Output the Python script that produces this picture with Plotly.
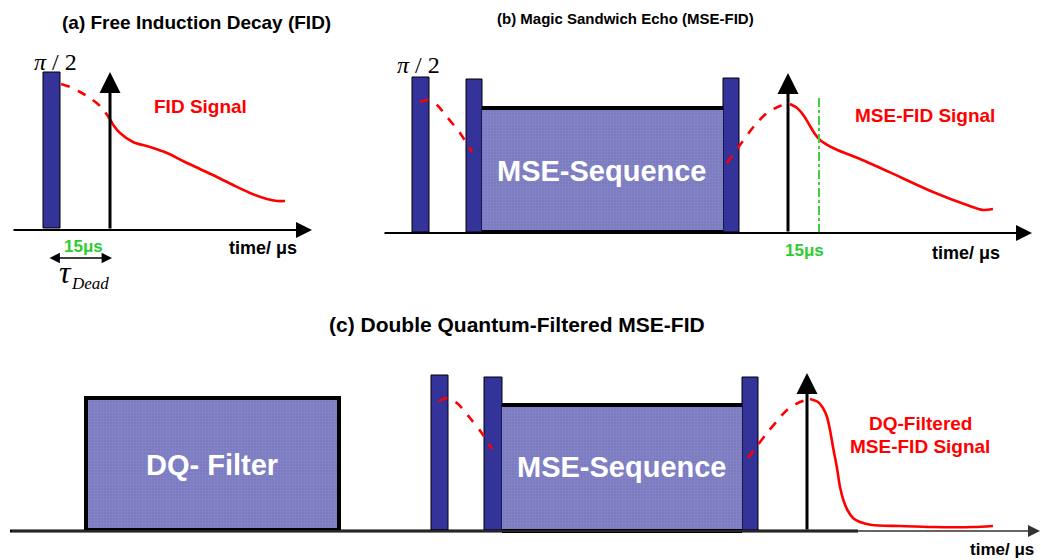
import plotly.graph_objects as go

# ---------------- schematic data (canvas units, y grows downward) ----------------
# RF pulses: start, end, top, bottom
pulse_start = [43, 412, 466, 723, 431, 484, 742]
pulse_end = [60, 429, 482, 739, 448, 502, 758]
pulse_top = [72, 77, 79, 78, 375, 377, 377]
pulse_bottom = [228, 232, 232, 232, 530, 531, 531]

# textured blocks (MSE sequence (b), DQ filter (c), MSE sequence (c))
block_names = ["MSE-Sequence", "DQ- Filter", "MSE-Sequence"]
block_start = [482, 86, 502]
block_end = [723, 339, 742]
block_top = [108, 398, 405]
block_bottom = [232, 530, 531]
block_label_x = [602, 212, 622]
block_label_y = [171, 465, 467]

# signals (a) FID
fid_a_dash_x = [61, 70, 80, 90, 100, 110]
fid_a_dash_y = [84, 87, 92, 98, 106, 119]
fid_a_x = [110, 114, 120, 133, 150, 167, 183, 200, 217, 233, 250, 267, 277, 285]
fid_a_y = [119, 126, 133, 142, 147, 153, 161, 169, 177, 185, 193, 199, 201, 201]

# (b) MSE-FID
mse_b_dash1_x = [420, 428, 437, 447, 460, 472]
mse_b_dash1_y = [102, 100, 105, 117, 133, 152]
mse_b_dash2_x = [727, 740, 755, 767, 780, 790]
mse_b_dash2_y = [163, 145, 125, 113, 106, 104]
mse_b_x = [790, 797, 804, 810, 815, 820, 833, 850, 867, 900, 933, 967, 983, 993]
mse_b_y = [104, 108, 116, 126, 134, 140, 148, 155, 162, 177, 192, 205, 210, 209]

# (c) DQ-filtered MSE-FID
dq_c_dash1_x = [439, 448, 458, 470, 481, 492]
dq_c_dash1_y = [401, 398, 404, 418, 432, 449]
dq_c_dash2_x = [748, 757, 767, 777, 787, 800, 810]
dq_c_dash2_y = [458, 446, 433, 421, 410, 402, 399]
dq_c_x = [810, 818, 823, 827, 830, 833, 837, 840, 844, 848, 853, 860, 872, 900, 933, 973, 993]
dq_c_y = [399, 402, 408, 417, 430, 447, 468, 487, 502, 511, 518, 522, 525, 526, 527, 527, 526]

# time axes: x0, x1, y
axis_x0 = [12, 383, 10]
axis_x1 = [312, 1032, 1040]
axis_y = [230, 233, 531]
axis_label_x = [263, 966, 1002]
axis_label_y = [248, 253, 549]

# detection arrows: x, bottom, top
det_x = [110, 788, 807]
det_bottom = [230, 233, 531]
det_top = [72, 73, 373]

# titles
titles = ["(a) Free Induction Decay (FID)", "(b) Magic Sandwich Echo (MSE-FID)",
          "(c) Double Quantum-Filtered MSE-FID"]
title_x = [196, 625, 517]
title_y = [22, 18, 324]
title_size = [19, 15, 21]

# signal labels
sig_labels = ["FID Signal", "MSE-FID Signal", "DQ-Filtered", "MSE-FID Signal"]
sig_x = [200, 925, 920, 920]
sig_y = [106, 115, 423, 446]

# ---------------- figure ----------------
SANS = "Liberation Sans, Arial, sans-serif"
SERIF = "Liberation Serif, Times New Roman, serif"
RED = "#ff0000"
NAVY = "#333399"
LAV = "#7b7bc1"
GREEN = "#2ecc2e"

fig = go.Figure()

# textured blocks
for i in range(len(block_start)):
    fig.add_trace(go.Bar(
        x=[(block_start[i] + block_end[i]) / 2], width=[block_end[i] - block_start[i]],
        base=[block_top[i]], y=[block_bottom[i] - block_top[i]],
        marker=dict(color=LAV,
                    line=dict(color="black", width=4 if block_names[i].startswith("DQ") else 0),
                    pattern=dict(shape="+", fgcolor="#9c9cd4", size=3, solidity=0.25)),
        showlegend=False, hoverinfo="skip"))

# pulses as rectangles
shapes = []
for i in range(len(pulse_start)):
    shapes.append(dict(type="rect", xref="x", yref="y", layer="below",
                       x0=pulse_start[i], x1=pulse_end[i], y0=pulse_top[i], y1=pulse_bottom[i],
                       fillcolor=NAVY, line=dict(color="black", width=1)))
# thick top/bottom borders of MSE blocks
for i in (0, 2):
    for yy in (block_top[i], block_bottom[i]):
        shapes.append(dict(type="line", xref="x", yref="y", layer="above",
                           x0=block_start[i], x1=block_end[i], y0=yy, y1=yy,
                           line=dict(color="black", width=4)))
# green 15us marker in (b)
shapes.append(dict(type="line", xref="x", yref="y", layer="above",
                   x0=819, x1=819, y0=98, y1=233,
                   line=dict(color="#44cc44", width=2, dash="dashdot")))
# thick baseline part in (c) under blocks
shapes.append(dict(type="line", xref="x", yref="y", layer="above",
                   x0=axis_x0[2], x1=858, y0=axis_y[2], y1=axis_y[2],
                   line=dict(color="black", width=3)))


def sig(x, y, dash):
    fig.add_trace(go.Scatter(x=x, y=y, mode="lines",
                             line=dict(color=RED, width=2.6, dash=dash, shape="spline", smoothing=0.8),
                             showlegend=False, hoverinfo="skip"))


sig(fid_a_dash_x, fid_a_dash_y, "dash")
sig(fid_a_x, fid_a_y, "solid")
sig(mse_b_dash1_x, mse_b_dash1_y, "dash")
sig(mse_b_dash2_x, mse_b_dash2_y, "dash")
sig(mse_b_x, mse_b_y, "solid")
sig(dq_c_dash1_x, dq_c_dash1_y, "dash")
sig(dq_c_dash2_x, dq_c_dash2_y, "dash")
sig(dq_c_x, dq_c_y, "solid")

ann = []
# time axes with arrowheads
for i in range(3):
    ann.append(dict(x=axis_x1[i], y=axis_y[i], ax=axis_x0[i], ay=axis_y[i], xref="x", yref="y",
                    axref="x", ayref="y", text="", showarrow=True, arrowhead=2, arrowsize=1.6,
                    arrowwidth=2 if i < 2 else 1.5, arrowcolor="black" if i < 2 else "#333333"))
    ann.append(dict(x=axis_label_x[i], y=axis_label_y[i], xref="x", yref="y", text="<b>time/ μs</b>",
                    showarrow=False, font=dict(family=SANS, size=18 if i < 2 else 17, color="black")))
# detection arrows
for i in range(3):
    ann.append(dict(x=det_x[i], y=det_top[i], ax=det_x[i], ay=det_bottom[i], xref="x", yref="y",
                    axref="x", ayref="y", text="", showarrow=True, arrowhead=2, arrowsize=1.4,
                    arrowwidth=3, arrowcolor="black"))
# titles
for i in range(3):
    ann.append(dict(x=title_x[i], y=title_y[i], xref="x", yref="y", text="<b>%s</b>" % titles[i],
                    showarrow=False, font=dict(family=SANS, size=title_size[i], color="black")))
# signal labels
for i in range(4):
    ann.append(dict(x=sig_x[i], y=sig_y[i], xref="x", yref="y", text="<b>%s</b>" % sig_labels[i],
                    showarrow=False, font=dict(family=SANS, size=19, color=RED)))
# block labels
for i in range(3):
    ann.append(dict(x=block_label_x[i], y=block_label_y[i], xref="x", yref="y",
                    text="<b>%s</b>" % block_names[i], showarrow=False,
                    font=dict(family=SANS, size=29, color="white")))
# pi/2 labels
for px, py in ((55, 62), (418, 65)):
    ann.append(dict(x=px, y=py, xref="x", yref="y", text="<i>π</i> / 2", showarrow=False,
                    font=dict(family=SERIF, size=24, color="black")))
# 15 us labels
for gx, gy in ((83, 246), (804, 250)):
    ann.append(dict(x=gx, y=gy, xref="x", yref="y", text="<b>15μs</b>", showarrow=False,
                    font=dict(family=SANS, size=17, color=GREEN)))
# dead time double arrow and tau
ann.append(dict(x=112, y=258, ax=48, ay=258, xref="x", yref="y", axref="x", ayref="y", text="",
                showarrow=True, arrowhead=2, startarrowhead=2, arrowside="end+start",
                arrowsize=1.6, startarrowsize=1.6, arrowwidth=1.3, arrowcolor="black"))
ann.append(dict(x=65, y=272, xref="x", yref="y", text="<i>τ</i>", showarrow=False,
                font=dict(family=SERIF, size=32, color="black")))
ann.append(dict(x=90, y=283, xref="x", yref="y", text="<i>Dead</i>", showarrow=False,
                font=dict(family=SERIF, size=17, color="black")))

fig.update_layout(
    width=1041, height=560, margin=dict(l=0, r=0, t=0, b=0),
    paper_bgcolor="white", plot_bgcolor="white", barmode="overlay",
    xaxis=dict(range=[0, 1041], visible=False, fixedrange=True),
    yaxis=dict(range=[560, 0], visible=False, fixedrange=True),
    shapes=shapes, annotations=ann, showlegend=False)

fig.write_html("out.html", config={"displayModeBar": False},
               post_script="document.body.style.margin='0';document.body.style.overflow='hidden';")
